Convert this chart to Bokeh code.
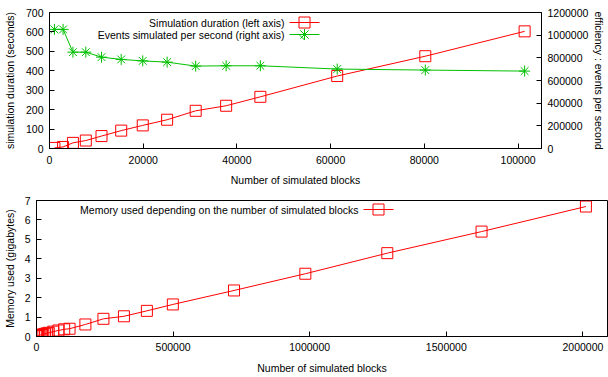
from bokeh.plotting import figure
from bokeh.models import (Range1d, LinearAxis, FixedTicker, Label,
                          PolyAnnotation, BasicTickFormatter)
from bokeh.embed import file_html
from bokeh.resources import INLINE

# ---------------- data ----------------
blocks = [1050, 2900, 5000, 7750, 11100, 15300, 19900, 25100, 31200, 37700,
          45000, 61400, 80200, 101400]
duration_s = [3, 8, 29, 41, 64, 92, 119, 148, 194, 220, 266, 373, 475, 603]
events_per_s = [1051000, 1051000, 850000, 850000, 806000, 786000, 773000,
                762000, 727000, 730000, 730000, 701000, 692000, 683000]

mem_blocks = [1050, 2900, 5000, 7750, 11100, 15300, 19900, 25100, 31200, 37700,
              45000, 61400, 80200, 101400, 121000, 179000, 245000, 320000,
              404000, 499000, 723000, 984000, 1284000, 1629000, 2011000]
mem_gb = [0.02, 0.03, 0.04, 0.05, 0.06, 0.08, 0.09, 0.11, 0.14, 0.16,
          0.19, 0.25, 0.31, 0.37, 0.40, 0.62, 0.91, 1.04,
          1.32, 1.65, 2.37, 3.23, 4.29, 5.40, 6.69]

top_x_ticks = [0, 20000, 40000, 60000, 80000, 100000]
dur_ticks = [0, 100, 200, 300, 400, 500, 600, 700]
eff_ticks = [0, 200000, 400000, 600000, 800000, 1000000, 1200000]
mem_x_ticks = [0, 500000, 1000000, 1500000, 2000000]
mem_y_ticks = [0, 1, 2, 3, 4, 5, 6, 7]

FONT = "Liberation Sans"
FS = "10.5px"
RED = "#ff0000"
GREEN = "#00c000"


def style_axis(ax, lab_standoff=6, title_standoff=7):
    ax.major_label_text_font = FONT
    ax.major_label_text_font_size = FS
    ax.major_label_text_color = "black"
    ax.axis_label_text_font = FONT
    ax.axis_label_text_font_size = FS
    ax.axis_label_text_font_style = "normal"
    ax.axis_label_text_color = "black"
    ax.major_tick_in = 5
    ax.major_tick_out = 0
    ax.minor_tick_line_color = None
    ax.axis_line_color = "black"
    ax.major_tick_line_color = "black"
    ax.major_label_standoff = lab_standoff
    ax.axis_label_standoff = title_standoff
    ax.formatter = BasicTickFormatter(use_scientific=False)


def base(p):
    p.xgrid.grid_line_color = None
    p.ygrid.grid_line_color = None
    p.outline_line_color = "black"
    p.outline_line_alpha = 1.0
    p.outline_line_width = 1
    p.background_fill_color = "white"
    p.border_fill_color = "white"


def poly(p, xs, ys, color):
    p.add_layout(PolyAnnotation(xs=xs, ys=ys, xs_units="screen",
                                ys_units="screen", line_color=color,
                                line_alpha=1.0, line_width=1,
                                fill_color=None, fill_alpha=0))


def key(p, text, color, marker, x0, y):
    """gnuplot-style key entry: text right-aligned, sample on its right."""
    p.add_layout(Label(x=x0 - 5, y=y, x_units="screen", y_units="screen",
                       text=text, text_align="right", text_baseline="middle",
                       text_font=FONT, text_font_size=FS, text_color="black"))
    poly(p, [x0, x0 + 30], [y, y], color)
    cx, h = x0 + 15, 5.5
    if marker == "square":
        poly(p, [cx - h, cx + h, cx + h, cx - h], [y - h, y - h, y + h, y + h],
             color)
    else:
        d = 3.9
        poly(p, [cx, cx, cx, cx - h, cx + h, cx, cx - d, cx + d, cx, cx - d, cx + d],
             [y, y + h, y - h, y, y, y, y - d, y + d, y, y + d, y - d], color)


# ---------------- top chart ----------------
p1 = figure(width=608, height=188, x_range=Range1d(0, 105000),
            y_range=Range1d(0, 700), output_backend="svg",
            toolbar_location=None, min_border_left=48, min_border_right=59,
            min_border_top=12, min_border_bottom=39)
base(p1)
p1.extra_y_ranges = {"eff": Range1d(0, 1200000)}

p1.line(blocks, duration_s, line_color=RED, line_width=1)
p1.scatter(blocks, duration_s, marker="square", size=11, line_color=RED,
           fill_color=None, line_width=1)
p1.line(blocks, events_per_s, y_range_name="eff", line_color=GREEN,
        line_width=1)
p1.scatter(blocks, events_per_s, y_range_name="eff", marker="asterisk",
           size=11, line_color=GREEN, line_width=1)

p1.xaxis.axis_label = "Number of simulated blocks"
p1.xaxis.ticker = FixedTicker(ticks=top_x_ticks)
p1.yaxis.axis_label = "simulation duration (seconds)"
p1.yaxis.ticker = FixedTicker(ticks=dur_ticks)
ax2 = LinearAxis(y_range_name="eff", axis_label="efficiency : events per second",
                 ticker=FixedTicker(ticks=eff_ticks))
p1.add_layout(ax2, "right")
for ax in p1.xaxis:
    style_axis(ax, 7, 7)
for ax in p1.yaxis:
    style_axis(ax, 6, 7)
style_axis(ax2, 6, 2)
if "axis_label_orientation" in ax2.properties():
    ax2.axis_label_orientation = "vertical"

key(p1, "Simulation duration (left axis)", RED, "square", 240, 126)
key(p1, "Events simulated per second (right axis)", GREEN, "star", 240, 114)

# ---------------- bottom chart ----------------
p2 = figure(width=608, height=189, x_range=Range1d(0, 2090000),
            y_range=Range1d(0, 7), output_backend="svg",
            toolbar_location=None, min_border_left=36, min_border_right=1,
            min_border_top=12, min_border_bottom=41)
base(p2)
p2.line(mem_blocks, mem_gb, line_color=RED, line_width=1)
p2.scatter(mem_blocks, mem_gb, marker="square", size=11, line_color=RED,
           fill_color=None, line_width=1)
p2.xaxis.axis_label = "Number of simulated blocks"
p2.xaxis.ticker = FixedTicker(ticks=mem_x_ticks)
p2.yaxis.axis_label = "Memory used (gigabytes)"
p2.yaxis.ticker = FixedTicker(ticks=mem_y_ticks)
for ax in p2.xaxis:
    style_axis(ax, 6, 8)
for ax in p2.yaxis:
    style_axis(ax, 6, 6)

key(p2, "Memory used depending on the number of simulated blocks", RED,
    "square", 327, 127)

open("out.html", "w").write(file_html([p1, p2], INLINE))
